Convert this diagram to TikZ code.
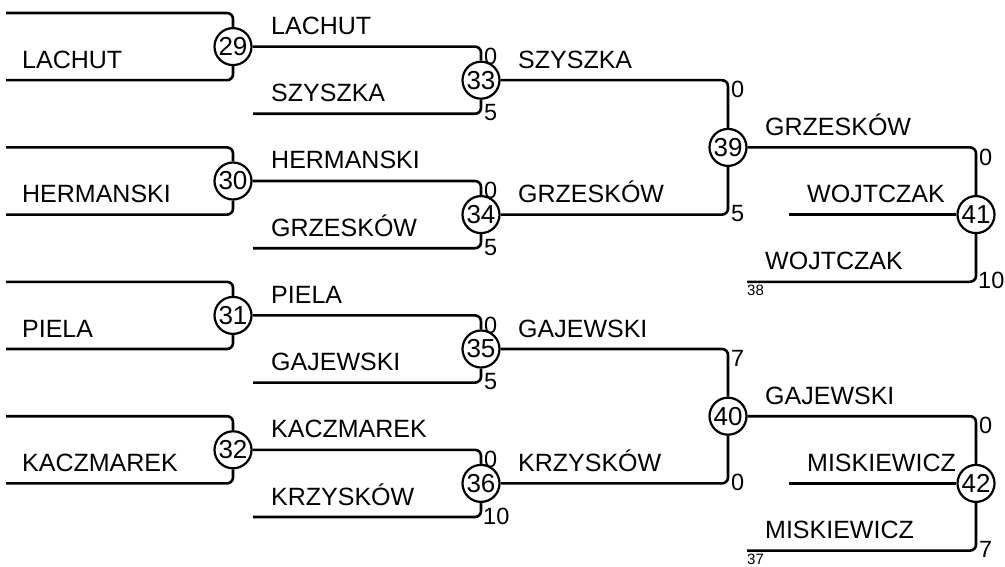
\documentclass[tikz,border=0pt]{standalone}
\usepackage{fontspec}
\setmainfont{Liberation Sans}
\begin{document}
\begin{tikzpicture}[x=1pt,y=-1pt,
  conn/.style={line width=2.6pt, rounded corners=6pt},
  mnode/.style={circle, draw, line width=2.2pt, minimum size=37pt, inner sep=0pt, font=\fontsize{26}{26}\selectfont},
  plname/.style={anchor=base west, inner sep=0pt, font=\fontsize{25}{25}\selectfont},
  sctop/.style={anchor=north west, inner sep=0pt, font=\fontsize{23.5}{23.5}\selectfont},
  scbot/.style={anchor=west, inner sep=0pt, font=\fontsize{23.5}{23.5}\selectfont},
  seedlbl/.style={anchor=north west, inner sep=0pt, font=\fontsize{15}{15}\selectfont}]
\useasboundingbox (0,0) rectangle (1005,567);

% ---- match nodes
\node[mnode] (m29) at (233,46.6) {29};
\node[mnode] (m30) at (233,181) {30};
\node[mnode] (m31) at (233,315.4) {31};
\node[mnode] (m32) at (233,449.8) {32};
\node[mnode] (m33) at (481,80.2) {33};
\node[mnode] (m34) at (481,214.6) {34};
\node[mnode] (m35) at (481,349) {35};
\node[mnode] (m36) at (481,483.4) {36};
\node[mnode] (m39) at (728,147.4) {39};
\node[mnode] (m40) at (728,416.2) {40};
\node[mnode] (m41) at (976,214.6) {41};
\node[mnode] (m42) at (976,483.4) {42};

% ---- free line ends
\coordinate (a29) at (6,13);     \coordinate (b29) at (6,80.2);
\coordinate (a30) at (6,147.4);  \coordinate (b30) at (6,214.6);
\coordinate (a31) at (6,281.8);  \coordinate (b31) at (6,349);
\coordinate (a32) at (6,416.2);  \coordinate (b32) at (6,483.4);
\coordinate (b33) at (253,113.8);
\coordinate (b34) at (253,248.2);
\coordinate (b35) at (253,382.6);
\coordinate (b36) at (253,517);
\coordinate (b41) at (747,281.8); \coordinate (c41) at (789,214.6);
\coordinate (b42) at (747,550.6); \coordinate (c42) at (789,483.4);

% ---- round 1
\foreach \m in {29,30,31,32}{
  \draw[conn] (a\m) -| (m\m);
  \draw[conn] (b\m) -| (m\m);
}
% ---- round 2
\draw[conn] (m29) -| (m33); \draw[conn] (b33) -| (m33);
\draw[conn] (m30) -| (m34); \draw[conn] (b34) -| (m34);
\draw[conn] (m31) -| (m35); \draw[conn] (b35) -| (m35);
\draw[conn] (m32) -| (m36); \draw[conn] (b36) -| (m36);
% ---- round 3
\draw[conn] (m33) -| (m39); \draw[conn] (m34) -| (m39);
\draw[conn] (m35) -| (m40); \draw[conn] (m36) -| (m40);
% ---- round 4
\draw[conn] (m39) -| (m41); \draw[conn] (b41) -| (m41); \draw[conn] (c41) -- (m41);
\draw[conn] (m40) -| (m42); \draw[conn] (b42) -| (m42); \draw[conn] (c42) -- (m42);

% ---- names, round 1
\node[plname] (n29) at (22,68.2) {LACHUT};
\node[plname] (n30) at (22,202.6) {HERMANSKI};
\node[plname] (n31) at (22,337) {PIELA};
\node[plname] (n32) at (22,471.4) {KACZMAREK};
% ---- names, round 2
\node[plname] (n33a) at (271,34.6) {LACHUT};
\node[plname] (n33b) at (271,101.8) {SZYSZKA};
\node[plname] (n34a) at (271,169) {HERMANSKI};
\node[plname] (n34b) at (271,236.2) {GRZESKÓW};
\node[plname] (n35a) at (271,303.4) {PIELA};
\node[plname] (n35b) at (271,370.6) {GAJEWSKI};
\node[plname] (n36a) at (271,437.8) {KACZMAREK};
\node[plname] (n36b) at (271,505) {KRZYSKÓW};
% ---- names, round 3
\node[plname] (n39a) at (518,68.2) {SZYSZKA};
\node[plname] (n39b) at (518,202.6) {GRZESKÓW};
\node[plname] (n40a) at (518,337) {GAJEWSKI};
\node[plname] (n40b) at (518,471.4) {KRZYSKÓW};
% ---- names, round 4
\node[plname] (n41a) at (765,135.4) {GRZESKÓW};
\node[plname] (n41c) at (807,202.6) {WOJTCZAK};
\node[plname] (n41b) at (765,269.8) {WOJTCZAK};
\node[plname] (n42a) at (765,404.2) {GAJEWSKI};
\node[plname] (n42c) at (807,471.4) {MISKIEWICZ};
\node[plname] (n42b) at (765,538.6) {MISKIEWICZ};

% ---- scores
\node[sctop] (s33a) at (484,47.6) {0};   \node[scbot] (s33b) at (484,112.8) {5};
\node[sctop] (s34a) at (484,182) {0};    \node[scbot] (s34b) at (484,247.2) {5};
\node[sctop] (s35a) at (484,316.4) {0};  \node[scbot] (s35b) at (484,381.6) {5};
\node[sctop] (s36a) at (484,450.8) {0};  \node[scbot] (s36b) at (483,516) {10};
\node[sctop] (s39a) at (731,81.2) {0};   \node[scbot] (s39b) at (731,213.6) {5};
\node[sctop] (s40a) at (731,350) {7};    \node[scbot] (s40b) at (731,482.4) {0};
\node[sctop] (s41a) at (979,148.4) {0};  \node[scbot] (s41b) at (978,280.8) {10};
\node[sctop] (s42a) at (979,417.2) {0};  \node[scbot] (s42b) at (979,549.6) {7};

% ---- seeds
\node[seedlbl] (x38) at (747,285) {38};
\node[seedlbl] (x37) at (747,554) {37};
\end{tikzpicture}
\end{document}
